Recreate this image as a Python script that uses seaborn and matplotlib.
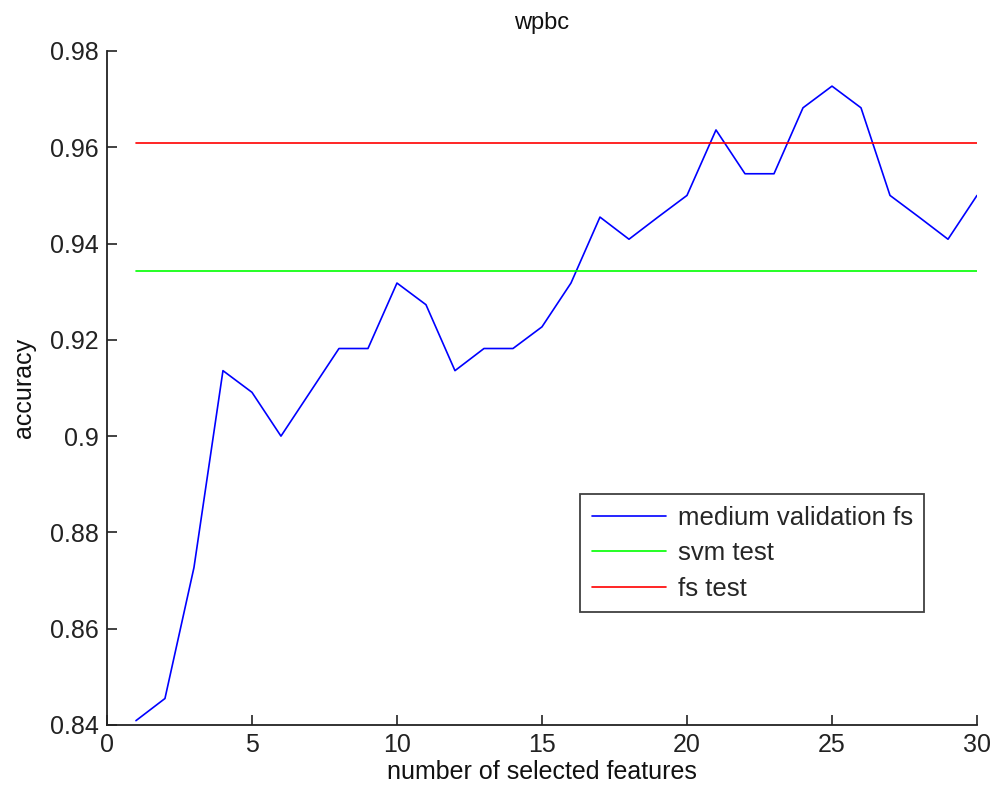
import matplotlib
matplotlib.use("Agg")
import matplotlib.pyplot as plt
from matplotlib.ticker import FuncFormatter
import seaborn as sns
import pandas as pd

# number of selected features
n_features = list(range(1, 31))
# medium validation accuracy for feature selection
medium_validation_fs = [0.8409, 0.8455, 0.8727, 0.9136, 0.9091, 0.9000, 0.9091, 0.9182, 0.9182, 0.9318,
                        0.9273, 0.9136, 0.9182, 0.9182, 0.9227, 0.9318, 0.9455, 0.9409, 0.9455, 0.9500,
                        0.9636, 0.9545, 0.9545, 0.9682, 0.9727, 0.9682, 0.9500, 0.9455, 0.9409, 0.9500]
svm_test = 0.9342
fs_test = 0.9609

df = pd.DataFrame({
    "n": n_features,
    "medium validation fs": medium_validation_fs,
    "svm test": [svm_test] * len(n_features),
    "fs test": [fs_test] * len(n_features),
})

sns.set_style("white")
plt.rcParams["font.family"] = ["Liberation Sans", "DejaVu Sans"]

fig = plt.figure(figsize=(9.94, 7.98), dpi=100)
ax = fig.add_axes([0.1076, 0.0915, 0.8753, 0.8446])

colors = {"medium validation fs": "#0000ff", "svm test": "#00ff00", "fs test": "#ff0000"}
for name in ["medium validation fs", "svm test", "fs test"]:
    sns.lineplot(data=df, x="n", y=name, color=colors[name], linewidth=1.2, label=name, ax=ax)

ax.set_xlim(0, 30)
ax.set_ylim(0.84, 0.98)
ax.set_xticks(range(0, 31, 5))
ax.set_yticks([0.84, 0.86, 0.88, 0.90, 0.92, 0.94, 0.96, 0.98])
ax.yaxis.set_major_formatter(FuncFormatter(lambda v, p: "%g" % round(v, 2)))

ax.tick_params(direction="in", length=7, width=1.2, labelsize=18, colors="#222222",
               top=False, right=False, bottom=True, left=True, pad=6)
sns.despine(ax=ax)
for s in ["left", "bottom"]:
    ax.spines[s].set_color("#222222")
    ax.spines[s].set_linewidth(1.3)

ax.set_title("wpbc", fontsize=17, pad=16, color="#111111")
ax.set_xlabel("number of selected features", fontsize=18, labelpad=2, color="#111111")
ax.set_ylabel("accuracy", fontsize=18, labelpad=10, color="#111111")

leg = ax.legend(loc="upper left", bbox_to_anchor=(0.5437, 0.3427), fontsize=18.5,
                frameon=True, fancybox=False, handlelength=2.9, handletextpad=0.45,
                borderpad=0.45, labelspacing=0.45, borderaxespad=0)
leg.get_frame().set_edgecolor("#111111")
leg.get_frame().set_linewidth(1.3)

fig.savefig("out.png", dpi=100)
